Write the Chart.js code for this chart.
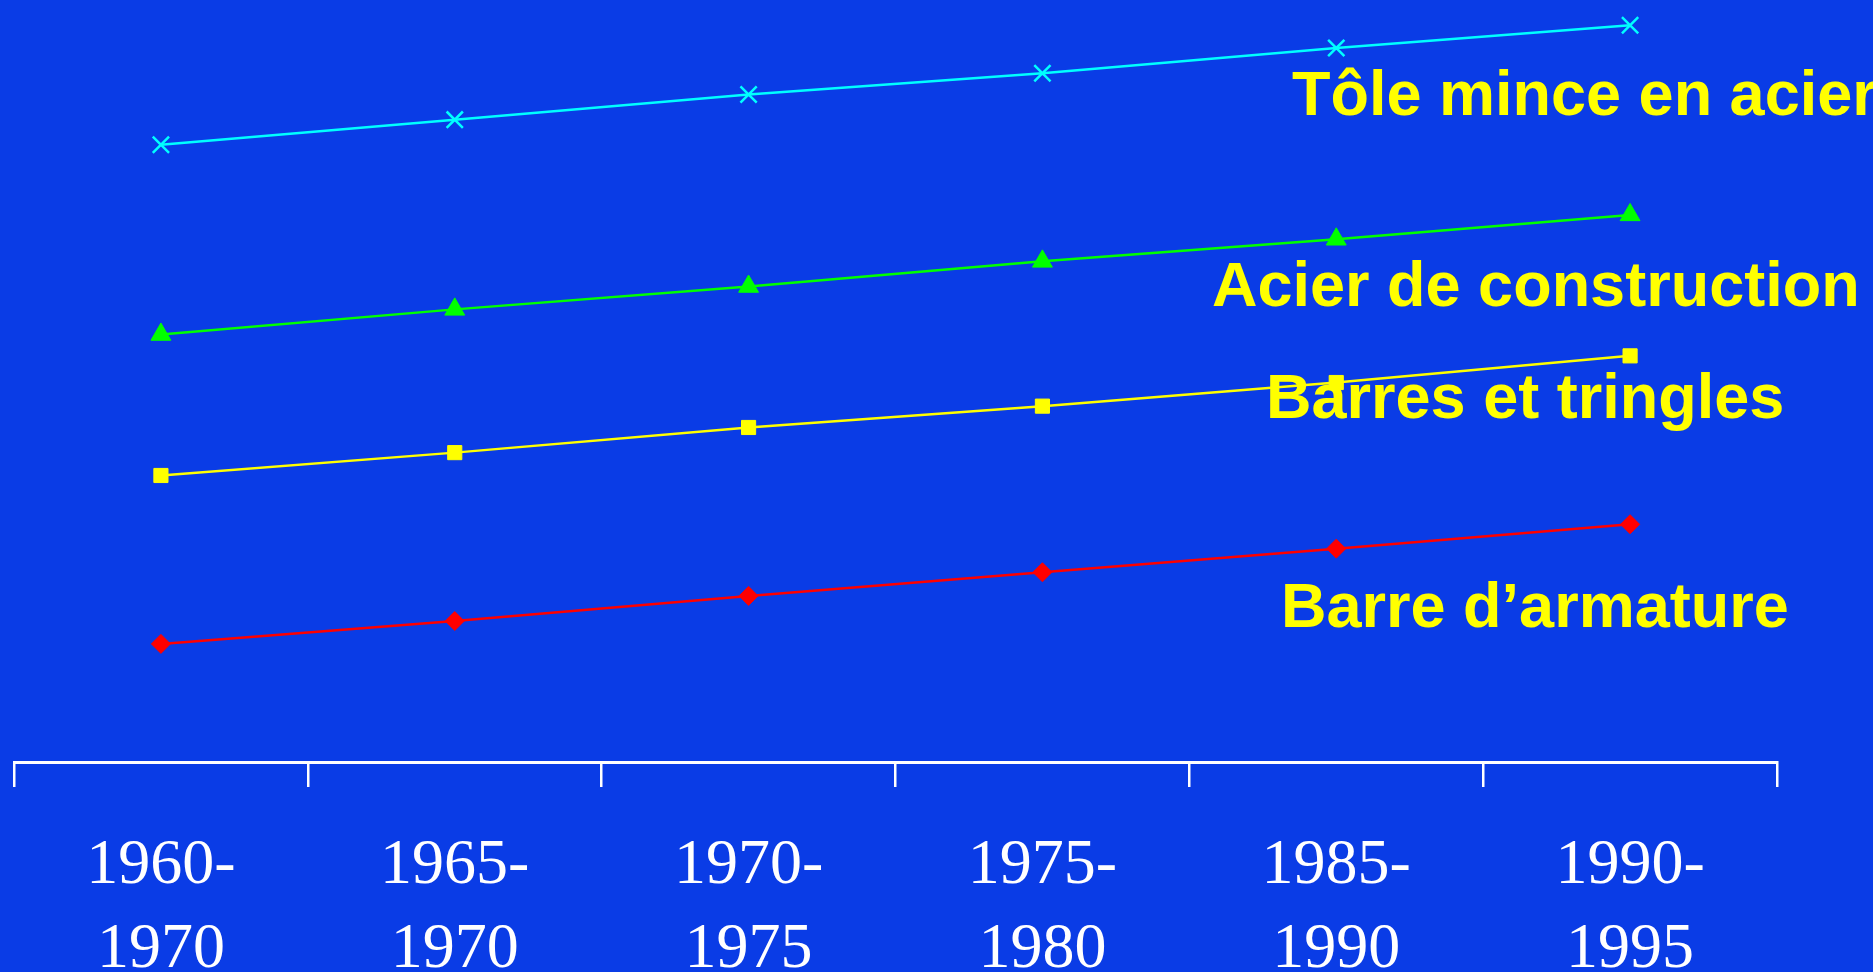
<!DOCTYPE html>
<html>
<head>
<meta charset="utf-8">
<script src="https://cdn.jsdelivr.net/npm/chart.js@4.4.1/dist/chart.umd.min.js"></script>
<style>
  html, body { margin: 0; padding: 0; background: #0a3ce6; overflow: hidden; }
  canvas { display: block; }
</style>
</head>
<body>
<canvas id="c" width="1873" height="972"></canvas>
<script>
// periods on the x axis (two lines each)
var periods = [
  ['1960-', '1970'], ['1965-', '1970'], ['1970-', '1975'],
  ['1975-', '1980'], ['1985-', '1990'], ['1990-', '1995']
];

// series (no y axis shown, arbitrary index units)
var tole     = [81.0, 84.3, 87.6, 90.4, 93.7, 96.7];
var acier    = [56.1, 59.4, 62.4, 65.7, 68.6, 71.8];
var barres   = [37.6, 40.6, 43.9, 46.7, 49.8, 53.3];
var armature = [15.5, 18.5, 21.8, 24.9, 28.0, 31.2];

var names = ['Tôle mince en acier', 'Acier de construction', 'Barres et tringles', 'Barre d’armature'];

var BG = '#0a3ce6';

// paint the slide background
var bgPlugin = {
  id: 'bg',
  beforeDraw: function (chart) {
    var ctx = chart.ctx;
    ctx.save();
    ctx.fillStyle = BG;
    ctx.fillRect(0, 0, chart.width, chart.height);
    ctx.restore();
  }
};

// series names written on the plot, like the slide does
var namePlugin = {
  id: 'names',
  afterDatasetsDraw: function (chart) {
    var ctx = chart.ctx;
    var spots = [[1292, 115], [1212, 306], [1266, 418], [1281, 627]];
    ctx.save();
    ctx.fillStyle = '#ffff00';
    ctx.font = 'bold 63px "Liberation Sans", Arial, sans-serif';
    ctx.textAlign = 'left';
    ctx.textBaseline = 'alphabetic';
    names.forEach(function (n, i) { ctx.fillText(n, spots[i][0], spots[i][1]); });
    ctx.restore();
  }
};

function series(data, color, style, r) {
  return {
    data: data, borderColor: color, backgroundColor: color, borderWidth: 2.5,
    pointStyle: style, pointRadius: r, pointBorderWidth: style === 'crossRot' ? 2.5 : 1,
    pointBorderColor: color, pointBackgroundColor: color, tension: 0, fill: false
  };
}

new Chart(document.getElementById('c').getContext('2d'), {
  type: 'line',
  data: {
    labels: periods,
    datasets: [
      series(tole, '#00ffff', 'crossRot', 11.5),
      series(acier, '#00ff00', 'triangle', 11.5),
      series(barres, '#ffff00', 'rect', 10),
      series(armature, '#ff0000', 'rectRot', 9.5)
    ]
  },
  options: {
    responsive: false,
    animation: false,
    layout: { autoPadding: false, padding: { left: 14, right: 96, top: 0, bottom: 0 } },
    plugins: { legend: { display: false }, tooltip: { enabled: false } },
    scales: {
      x: {
        offset: true,
        grid: { offset: true, drawOnChartArea: false, drawTicks: true, tickLength: 25, color: '#ffffff', lineWidth: 2.5 },
        border: { display: true, color: '#ffffff', width: 3 },
        ticks: {
          color: '#ffffff', padding: 38, maxRotation: 0, autoSkip: false,
          font: { family: '"Liberation Serif", "Times New Roman", serif', size: 64, lineHeight: 1.3 }
        },
        afterFit: function (scale) { scale.height = 210; }
      },
      y: { display: false, min: 0, max: 100 }
    }
  },
  plugins: [bgPlugin, namePlugin]
});
</script>
</body>
</html>
